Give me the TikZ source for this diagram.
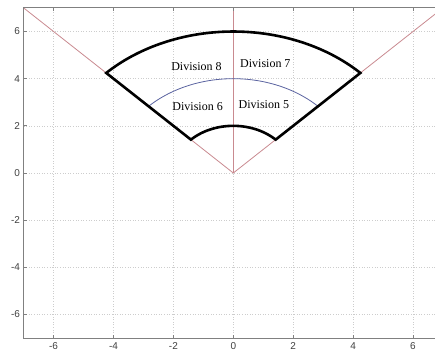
\documentclass[tikz,border=0pt]{standalone}
\usepackage{fontspec}
\setmainfont{Liberation Serif}
\setsansfont{Liberation Sans}
\usetikzlibrary{positioning}
\definecolor{raycol}{HTML}{C98A90}
\definecolor{midcol}{HTML}{5A63A0}
\definecolor{framecol}{HTML}{808080}
\definecolor{gridcol}{HTML}{CDCDCD}

\begin{document}
\begin{tikzpicture}[
  x=29.95pt,y=23.58pt,
  gridline/.style={gridcol,dotted,line width=0.6pt},
  rayline/.style={raycol,line width=0.8pt},
  midline/.style={midcol,line width=0.8pt},
  sector/.style={black,line width=2.6pt,line join=miter},
  axisline/.style={framecol,line width=0.9pt},
  ticklabel/.style={font=\sffamily\fontsize{10}{10}\selectfont,text=black!75,inner sep=0pt},
  divlabel/.style={font=\fontsize{12}{12}\selectfont,inner sep=0pt},
]
  \clip (-7.79,-7.59) rectangle (6.735,7.337);

  % grid
  \foreach \v in {-6,-4,...,6} {
    \draw[gridline] (\v,-7) -- (\v,7);
    \draw[gridline] (-7,\v) -- (7,\v);
  }

  % rays
  \draw[rayline] (-7,7) -- (0,0) -- (7,7);
  \draw[rayline] (0,0) -- (0,7);

  % middle arc
  \draw[midline] plot[domain=45:135,samples=60] ({4*cos(\x)},{4*sin(\x)});

  % sector outline
  \draw[sector] plot[domain=45:135,samples=80] ({6*cos(\x)},{6*sin(\x)})
    -- plot[domain=135:45,samples=40] ({2*cos(\x)},{2*sin(\x)}) -- cycle;

  % labels
  \node[divlabel] (div8) at (-1.23,4.52) {Division 8};
  \node[divlabel] (div7) at (1.07,4.66) {Division 7};
  \node[divlabel] (div6) at (-1.19,2.81) {Division 6};
  \node[divlabel] (div5) at (1.02,2.88) {Division 5};

  % axes box and ticks
  \draw[axisline] (7,7) -- (-7,7) -- (-7,-7) -- (7,-7);
  \foreach \v in {-6,-4,...,6} {
    \draw[axisline] (\v,-7) -- ++(0,3pt);
    \draw[axisline] (\v,7) -- ++(0,-3pt);
    \draw[axisline] (-7,\v) -- ++(3pt,0);
    \node[ticklabel,anchor=north,yshift=-4.5pt] (xl\v) at (\v,-7) {\v};
    \node[ticklabel,anchor=east,xshift=-3.5pt] (yl\v) at (-7,\v) {\v};
  }
\end{tikzpicture}
\end{document}
